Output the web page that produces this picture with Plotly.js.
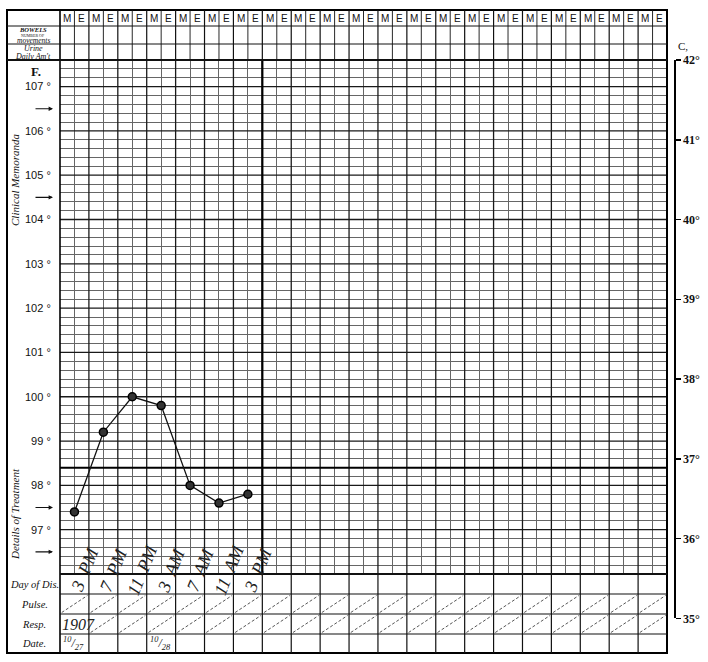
<!DOCTYPE html>
<html><head><meta charset="utf-8">
<script src="https://cdn.plot.ly/plotly-3.0.1.min.js"></script>
<style>html,body{margin:0;padding:0;background:#fff}#err{position:absolute;left:80px;top:200px;width:560px;font:12px monospace;color:red;white-space:pre-wrap;z-index:10}</style>
</head><body><div id="chart" style="width:708px;height:662px"></div><div id="err"></div>
<script>
window.onerror = function(m, s, l, c, e){ document.getElementById('err').textContent += 'ERR: ' + m + ' @' + l + ':' + c + '\n' + (e && e.stack ? e.stack.slice(0, 600) : ''); };
// ---------- data ----------
const readingCol = [1, 3, 5, 7, 9, 11, 13];
const tempF = [97.4, 99.2, 100.0, 99.8, 98.0, 97.6, 97.8];
const readingHour = ['3', '7', '11', '3', '7', '11', '3'];
const readingMeridiem = ['PM', 'PM', 'PM', 'AM', 'AM', 'AM', 'PM'];
const halfDayLabels = ['M', 'E'];
const nDays = 21;
const fahrenheitTicks = [97, 98, 99, 100, 101, 102, 103, 104, 105, 106, 107];
const celsiusTicks = [35, 36, 37, 38, 39, 40, 41, 42];
const arrowMarksF = [106.5, 104.5, 97.5, 96.5];
const normalTempF = 98.4;
const footerRowLabels = ['Day of Dis.', 'Pulse.', 'Resp.', 'Date.'];
const yearText = '1907';
const dateCols = [0, 6];
const dateMonth = ['10', '10'];
const dateDay = ['27', '28'];

// ---------- geometry (pixels) ----------
const FL = 7, FT = 10, PR = 674, FB = 653;
const GL = 60, GR = 667, GT = 60, GB = 574;
const headerLines = [26, 44];
const footerLines = [594, 614, 634];
const fMin = 96, fMax = 107.6;
const pxPerF = (GB - GT) / (fMax - fMin);
const nCols = nDays * 2;
const X = px => (px - FL) / (PR - FL);
const Y = py => (FB - py) / (FB - FT);
const cBottomPx = GB + (fMin - (celsiusTicks[0] * 9 / 5 + 32)) * pxPerF;

const ink = '#111';
const shapes = [];
const hl = (py, x0, x1, w) => shapes.push({type:'line', xref:'paper', yref:'paper', x0:X(x0), x1:X(x1), y0:Y(py), y1:Y(py), line:{color:ink, width:w}});
const vlCol = (c, y0, y1, w) => shapes.push({type:'line', xref:'x', yref:'paper', x0:c, x1:c, y0:Y(y0), y1:Y(y1), line:{color:ink, width:w}});

shapes.push({type:'rect', xref:'paper', yref:'paper', x0:X(FL), x1:X(GR), y0:Y(FB), y1:Y(FT), line:{color:'#000', width:2}});
shapes.push({type:'line', xref:'paper', yref:'paper', x0:X(GL), x1:X(GL), y0:Y(FB), y1:Y(FT), line:{color:'#000', width:1.6}});
headerLines.forEach(p => hl(p, FL, GR, 1));
hl(GT, FL, GR, 2);
for (let c = 1; c < nCols; c++) vlCol(c, FT, GT, c % 2 === 0 ? 1.2 : 0.9);
hl(GB, GL, GR, 2);
footerLines.forEach(p => hl(p, GL, GR, 1.1));
for (let c = 2; c < nCols; c += 2) vlCol(c, GB, FB, 1.2);
[[footerLines[0], footerLines[1]], [footerLines[1], footerLines[2]]].forEach((r, ri) => {
  for (let d = 0; d < nDays; d++) {
    if (ri === 1 && d === 0) continue;
    shapes.push({type:'line', xref:'x', yref:'paper', x0:2*d + 0.12, x1:2*d + 1.9, y0:Y(r[1] - 1.5), y1:Y(r[0] + 1.5),
      line:{color:'#444', width:0.9, dash:'3px,2px'}});
  }
});
// heavier grid lines: whole degrees F and day boundaries
fahrenheitTicks.forEach(v => shapes.push({type:'line', xref:'x', yref:'y', x0:0, x1:nCols, y0:v, y1:v, layer:'between', line:{color:'#1a1a1a', width:1.3}}));
for (let d = 1; d < nDays; d++) shapes.push({type:'line', xref:'x', yref:'y', x0:2*d, x1:2*d, y0:fMin, y1:fMax, layer:'between', line:{color:'#1a1a1a', width:1.3}});
shapes.push({type:'line', xref:'x', yref:'y', x0:14, x1:14, y0:fMin, y1:fMax, layer:'between', line:{color:'#000', width:2.2}});
shapes.push({type:'line', xref:'x', yref:'y', x0:0, x1:nCols, y0:normalTempF, y1:normalTempF, layer:'between', line:{color:'#000', width:2}});

// ---------- annotations ----------
const ann = [];
const serif = 'Liberation Serif, DejaVu Serif, serif';
const A = o => ann.push(Object.assign({showarrow:false, xanchor:'center', yanchor:'middle'}, o));
for (let c = 0; c < nCols; c++) {
  A({xref:'x', yref:'paper', x:c + 0.5, y:Y(18.5), text:halfDayLabels[c % 2],
    font:{family:'Liberation Sans, Arial, sans-serif', size:10, color:ink}});
}
A({xref:'paper', yref:'paper', x:X(33), y:Y(30), text:'<b><i>BOWELS</i></b>', font:{family:serif, size:6.5, color:ink}});
A({xref:'paper', yref:'paper', x:X(33), y:Y(35.3), text:'NUMBER OF', font:{family:serif, size:4, color:ink}});
A({xref:'paper', yref:'paper', x:X(33), y:Y(40.3), text:'<i>movements</i>', font:{family:serif, size:7.5, color:ink}});
A({xref:'paper', yref:'paper', x:X(33), y:Y(49), text:'<i>Urine</i>', font:{family:serif, size:8, color:ink}});
A({xref:'paper', yref:'paper', x:X(33), y:Y(56.5), text:'<i>Daily Am\'t</i>', font:{family:serif, size:8, color:ink}});
A({xref:'paper', yref:'paper', x:X(36), y:Y(71), text:'<b>F.</b>', font:{family:serif, size:13, color:ink}});
A({xref:'paper', yref:'paper', x:X(15), y:Y(180), text:'<i>Clinical Memoranda</i>', textangle:-90, font:{family:serif, size:11, color:ink}});
A({xref:'paper', yref:'paper', x:X(15), y:Y(514), text:'<i>Details of Treatment</i>', textangle:-90, font:{family:serif, size:11, color:ink}});
arrowMarksF.forEach(t => A({xref:'paper', yref:'y', x:X(53), y:t, text:'', showarrow:true, ax:-19, ay:0,
  arrowhead:2, arrowsize:0.8, arrowwidth:1.1, arrowcolor:ink}));
footerRowLabels.forEach((t, i) => {
  const top = i === 0 ? GB : footerLines[i - 1];
  const bot = i < footerLines.length ? footerLines[i] : FB;
  A({xref:'paper', yref:'paper', x:X(34), y:Y((top + bot) / 2), text:'<i>' + t + '</i>', font:{family:serif, size:10.5, color:ink}});
});
A({xref:'paper', yref:'paper', x:X(676), y:Y(46), xanchor:'left', text:'C,', font:{family:serif, size:11, color:ink}});
readingCol.forEach((c, i) => A({xref:'x', yref:'paper', x:c + 0.7, y:Y(570),
  text:'<i>' + readingHour[i] + '  ' + readingMeridiem[i] + '</i>', textangle:-68, font:{family:serif, size:18, color:'#222'}}));
A({xref:'x', yref:'paper', x:1.25, y:Y(624), text:'<i>' + yearText + '</i>', font:{family:serif, size:16, color:'#222'}});
dateCols.forEach((c, i) => A({xref:'x', yref:'paper', x:c + 0.95, y:Y(643),
  text:'<i><sup>' + dateMonth[i] + '</sup>/<sub>' + dateDay[i] + '</sub></i>', font:{family:serif, size:12, color:'#222'}}));

// ---------- traces ----------
const traces = [
  {type:'scatter', mode:'lines+markers', x:readingCol, y:tempF, xaxis:'x', yaxis:'y', cliponaxis:false, hoverinfo:'skip',
   line:{color:'#111', width:1.3}, marker:{size:8, color:'#333', line:{color:'#000', width:1.5}}},
  {type:'scatter', mode:'markers', x:[0], y:[celsiusTicks[0]], xaxis:'x2', yaxis:'y2', hoverinfo:'skip',
   marker:{opacity:0}, showlegend:false}
];

const fAlias = {};
fAlias[String(fMin)] = '';
fahrenheitTicks.forEach(v => { fAlias[String(v)] = v + ' °'; });

const layout = {
  width:708, height:662, showlegend:false,
  margin:{l:FL, r:708 - PR, t:FT, b:662 - FB, pad:0},
  paper_bgcolor:'#fff', plot_bgcolor:'rgba(0,0,0,0)',
  xaxis:{domain:[X(GL), X(GR)], range:[0, nCols], anchor:'y', tickmode:'linear', tick0:0, dtick:2,
    showticklabels:false, ticks:'', zeroline:false, showline:false, showgrid:false,
    minor:{tick0:0, dtick:1, showgrid:true, gridcolor:'#666', gridwidth:1}},
  yaxis:{domain:[Y(GB), Y(GT)], range:[fMin, fMax], anchor:'x', tickmode:'linear', tick0:fMin, dtick:1,
    labelalias:fAlias, ticks:'outside', ticklen:6, tickcolor:'rgba(0,0,0,0)', zeroline:false, showline:false,
    showgrid:false,
    tickfont:{family:'Liberation Sans, Arial, sans-serif', size:11, color:ink},
    minor:{tick0:fMin, dtick:0.2, showgrid:true, gridcolor:'#666', gridwidth:1}},
  xaxis2:{domain:[X(GL), X(GR)], range:[0, nCols], anchor:'y2', visible:false, showgrid:false},
  yaxis2:{domain:[Y(cBottomPx), Y(GT)], range:[celsiusTicks[0], celsiusTicks[celsiusTicks.length - 1]],
    anchor:'free', position:1, side:'right', tickmode:'array', tickvals:celsiusTicks,
    ticktext:celsiusTicks.map(v => v + '°'), showline:true, linecolor:'#000', linewidth:1.5,
    ticks:'outside', ticklen:5, tickwidth:1.5, tickcolor:'#000', showgrid:false, zeroline:false,
    tickfont:{family:serif, size:12, color:ink, weight:'bold'}},
  shapes:shapes, annotations:ann
};
try {
  Plotly.newPlot('chart', traces, layout, {staticPlot:true, displayModeBar:false})
    .catch(e => { document.getElementById('err').textContent += 'PROMISE: ' + e + '\n' + (e.stack||'').slice(0,600); });
} catch (e) { document.getElementById('err').textContent += 'CATCH: ' + e + '\n' + (e.stack||'').slice(0,600); }
</script></body></html>
